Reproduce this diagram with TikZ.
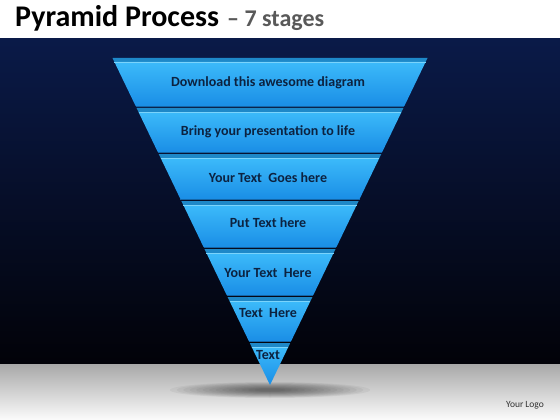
\documentclass[tikz,border=0pt]{standalone}
\usepackage{fontspec}
\setmainfont{Carlito}
\definecolor{navytop}{HTML}{0A1A48}
\definecolor{navymid}{HTML}{041030}
\definecolor{navybot}{HTML}{020208}
\definecolor{facetop}{HTML}{3CBAFA}
\definecolor{facebot}{HTML}{1A8EE6}
\definecolor{lidcol}{HTML}{1E88C8}
\definecolor{lidhi}{HTML}{7AD4FC}
\definecolor{edgecol}{HTML}{1466A8}
\definecolor{labelcol}{HTML}{0C2240}
\definecolor{subcol}{HTML}{595959}
\definecolor{floortop}{HTML}{A8A8A8}
\definecolor{floormid}{HTML}{ECECEC}
\definecolor{floorbot}{HTML}{FCFCFC}
\begin{document}
\begin{tikzpicture}[x=1pt,y=-1pt,
  labeltext/.style={font=\bfseries\fontsize{14}{16}\selectfont, text=labelcol, inner sep=0pt},
  titletext/.style={font=\bfseries\fontsize{30}{34}\selectfont, inner sep=0pt, anchor=base west}]
\useasboundingbox (0,0) rectangle (560,420);
\fill[white] (0,0) rectangle (560,420);
\shade[top color=navytop, middle color=navymid, bottom color=navybot] (0,39) rectangle (560,364);
\shade[top color=floortop, middle color=floormid, bottom color=floorbot] (0,364) rectangle (560,420);
\foreach \r in {0,...,13}{
  \fill[black, opacity=0.045] (270,390) ellipse [x radius={100-6.5*\r}, y radius={8-0.5*\r}];
}

\node[titletext] (title) at (15,27) {Pyramid Process};
\node[titletext, font=\bfseries\fontsize{24}{28}\selectfont, text=subcol] (subtitle) at (227,27) {– 7 stages};

\foreach \t/\b/\n/\ty/\txt in {58/106/s1/83/Download this awesome diagram,
                              108/152/s2/132/Bring your presentation to life,
                              154/199/s3/178/Your Text~ Goes here,
                              201/247/s4/223/Put Text here,
                              249/295/s5/273/Your Text~ Here,
                              297/341/s6/313/Text~ Here,
                              343/385/s7/355/Text}{
  \pgfmathsetmacro\ya{\t}%
  \pgfmathsetmacro\yb{\t+4}%
  \pgfmathsetmacro\yc{\b}%
  \pgfmathsetmacro\wa{0.48165*(385-\ya)}%
  \pgfmathsetmacro\wb{0.48165*(385-\yb)}%
  \pgfmathsetmacro\wc{0.48165*(385-\yc)}%
  \fill[lidcol] (270-\wa,\ya) -- (270+\wa,\ya) -- (270+\wb,\yb) -- (270-\wb,\yb) -- cycle;
  \shade[top color=facetop, bottom color=facebot] (270-\wb,\yb) -- (270+\wb,\yb) -- (270+\wc,\yc) -- (270-\wc,\yc) -- cycle;
  \draw[lidhi, line width=0.7pt] (270-\wb,\yb) -- (270+\wb,\yb);
  \draw[edgecol, line width=0.8pt] (270-\wc,\yc) -- (270+\wc,\yc);
  \node[labeltext] (\n) at (268,\ty) {\txt};
}
\node[font=\fontsize{9.5}{11}\selectfont, text=black!80, inner sep=0pt] (logo) at (525,405) {Your Logo};
\end{tikzpicture}
\end{document}
